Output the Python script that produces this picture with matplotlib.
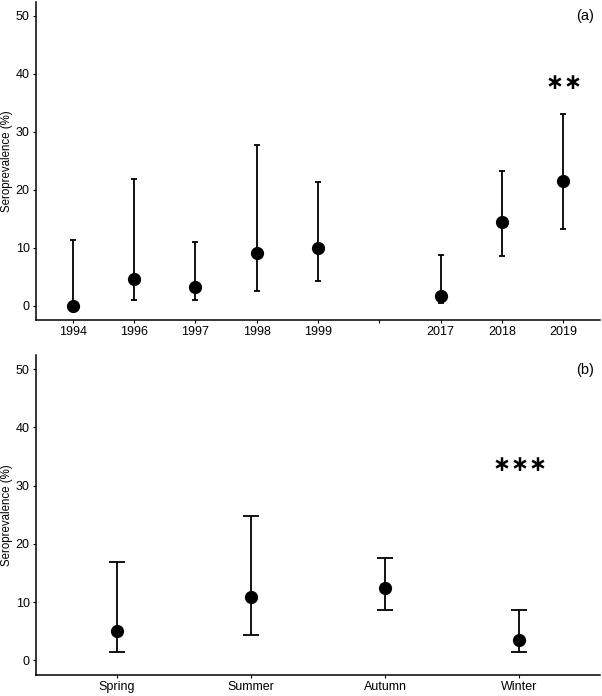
"""Seroprevalence by year (a) and by season (b)."""

import matplotlib

matplotlib.use("Agg")
import matplotlib.pyplot as plt
import numpy as np

plt.rcParams["font.family"] = ["Liberation Sans", "DejaVu Sans"]

# panel (a): sampling years, blank slot marks the gap 1999 -> 2017
years = ["1994", "1996", "1997", "1998", "1999", "", "2017", "2018", "2019"]
year_est = [0.0, 4.6, 3.2, 9.1, 10.0, np.nan, 1.7, 14.4, 21.5]
year_lo = [0.0, 0.9, 1.0, 2.5, 4.3, np.nan, 0.35, 8.5, 13.2]
year_hi = [11.4, 21.8, 11.0, 27.8, 21.4, np.nan, 8.8, 23.2, 33.0]

# panel (b): seasons
seasons = ["Spring", "Summer", "Autumn", "Winter"]
season_est = [5.0, 10.8, 12.4, 3.5]
season_lo = [1.4, 4.3, 8.6, 1.4]
season_hi = [16.9, 24.7, 17.6, 8.7]

W, H = 602, 696
fig = plt.figure(figsize=(W / 100, H / 100), dpi=100)


def add_stars(ax, x, y, n):
    # one glyph per star so the spacing can follow the original
    step = 12.8  # points between star centres
    for i in range(n):
        ax.annotate("\u2217", (x, y), xytext=((i - (n - 1) / 2) * step, 0),
                    textcoords="offset points", ha="center", va="center",
                    fontsize=15.5, family="DejaVu Sans", fontweight="bold")


def panel(rect, labels, est, lo, hi, capsize, n_stars, star_x, star_y, tag):
    ax = fig.add_axes(rect)
    x = np.arange(1, len(labels) + 1)
    est = np.asarray(est, dtype=float)
    lo = np.asarray(lo, dtype=float)
    hi = np.asarray(hi, dtype=float)
    ok = ~np.isnan(est)
    ax.errorbar(
        x[ok], est[ok], yerr=[est[ok] - lo[ok], hi[ok] - est[ok]],
        fmt="none", ecolor="black", elinewidth=1.3, capsize=capsize, capthick=1.3,
    )
    ax.plot(x[ok], est[ok], "o", color="black", markersize=8.5, zorder=3)
    ax.set_xlim(0.4, len(labels) + 0.6)
    ax.set_ylim(-2.5, 52.5)
    ax.set_xticks(x)
    ax.set_xticklabels(labels)
    ax.set_yticks([0, 10, 20, 30, 40, 50])
    ax.set_ylabel("Seroprevalence (%)", fontsize=8.3, labelpad=2)
    ax.tick_params(labelsize=9, length=2.5, width=0.8, colors="black", pad=2)
    for s in ("top", "right"):
        ax.spines[s].set_visible(False)
    for s in ("left", "bottom"):
        ax.spines[s].set_linewidth(1.1)
    add_stars(ax, star_x, star_y, n_stars)
    ax.text(0.99, 0.975, tag, transform=ax.transAxes, ha="right", va="top", fontsize=10.5)
    return ax


panel([36 / W, 1 - 320 / H, 564 / W, 318.5 / H], years, year_est, year_lo, year_hi,
      2.5, 2, 9, 38.4, "(a)")
panel([36 / W, 1 - 675 / H, 564 / W, 320.5 / H], seasons, season_est, season_lo, season_hi,
      6, 3, 4, 33.5, "(b)")

fig.savefig("out.png", dpi=100)
